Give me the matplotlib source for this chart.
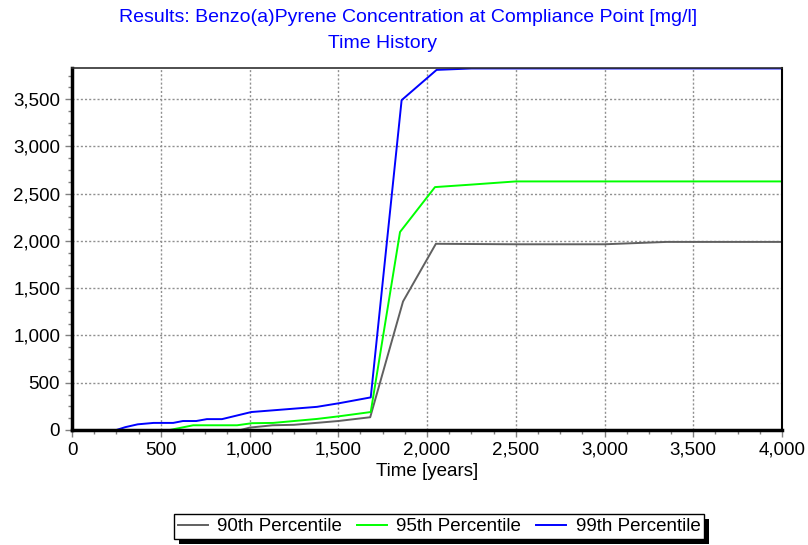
import matplotlib.pyplot as plt
from matplotlib.patches import Rectangle
from matplotlib.ticker import MultipleLocator, FuncFormatter

plt.rcParams['font.family'] = ['Liberation Sans', 'DejaVu Sans']

# 90th percentile
years_90 = [0, 950, 1000, 1130, 1250, 1500, 1680, 1865, 2050, 2500, 3000, 3350, 4000]
p90 = [0, 0, 25, 50, 55, 95, 135, 1360, 1970, 1965, 1965, 1990, 1990]

# 95th percentile
years_95 = [0, 550, 683, 930, 1014, 1133, 1380, 1504, 1683, 1848, 2045, 2240, 2500, 4000]
p95 = [0, 0, 50, 50, 72, 75, 117, 145, 190, 2095, 2570, 2595, 2630, 2630]

# 99th percentile
years_99 = [0, 250, 300, 370, 460, 570, 625, 700, 760, 845, 1010, 1380, 1510, 1683,
            1857, 2054, 2250, 4000]
p99 = [0, 0, 30, 60, 75, 75, 95, 95, 115, 115, 190, 245, 285, 345,
       3490, 3810, 3825, 3825]

fig = plt.figure(figsize=(8.08, 5.45), dpi=100)
ax = fig.add_axes([72 / 808, 1 - 430 / 545, 710 / 808, 362 / 545])

ax.plot(years_90, p90, color='#606060', lw=1.4, label='90th Percentile')
ax.plot(years_95, p95, color='#00ff00', lw=1.4, label='95th Percentile')
ax.plot(years_99, p99, color='#0000ff', lw=1.4, label='99th Percentile')

ax.set_xlim(0, 4000)
ax.set_ylim(0, 3830)
ax.xaxis.set_major_locator(MultipleLocator(500))
ax.xaxis.set_minor_locator(MultipleLocator(125))
ax.yaxis.set_major_locator(MultipleLocator(500))
ax.yaxis.set_minor_locator(MultipleLocator(125))
fmt = FuncFormatter(lambda v, p: f'{int(v):,}')
ax.xaxis.set_major_formatter(fmt)
ax.yaxis.set_major_formatter(fmt)
ax.tick_params(which='both', color='#808080', labelsize=13.5)
ax.tick_params(which='major', length=5, width=1)
ax.tick_params(which='minor', length=3, width=1)
ax.grid(True, which='major', color='#909090', linestyle=(0, (1.5, 1.5)), lw=1)

ax.spines['left'].set_linewidth(2.5)
ax.spines['bottom'].set_linewidth(2.5)
ax.spines['top'].set_linewidth(1.2)
ax.spines['right'].set_linewidth(1.5)
ax.spines['top'].set_color('#303030')

ax.set_xlabel('Time [years]', fontsize=13.5, labelpad=3)

fig.text(408 / 808, 1 - 18 / 545, 'Results: Benzo(a)Pyrene Concentration at Compliance Point [mg/l]',
         color='#0000ff', fontsize=14, ha='center', va='center')
fig.text(382 / 808, 1 - 43 / 545, 'Time History',
         color='#0000ff', fontsize=14, ha='center', va='center')

leg = fig.legend(loc='center', bbox_to_anchor=(439 / 808, 1 - 526.5 / 545), ncol=3,
                 fontsize=13.5, frameon=True, fancybox=False, edgecolor='black',
                 framealpha=1, handlelength=1.6,
                 columnspacing=0.8, handletextpad=0.5, borderpad=0.2,
                 borderaxespad=0)
leg.get_frame().set_linewidth(1)

# black drop shadow behind the legend box
fig.canvas.draw()
bb = leg.get_window_extent().transformed(fig.transFigure.inverted())
fig.patches.append(Rectangle((bb.x0 + 5 / 808, bb.y0 - 5 / 545), bb.width, bb.height,
                             transform=fig.transFigure, facecolor='black',
                             edgecolor='none', zorder=4))

fig.savefig('out.png', dpi=100)
